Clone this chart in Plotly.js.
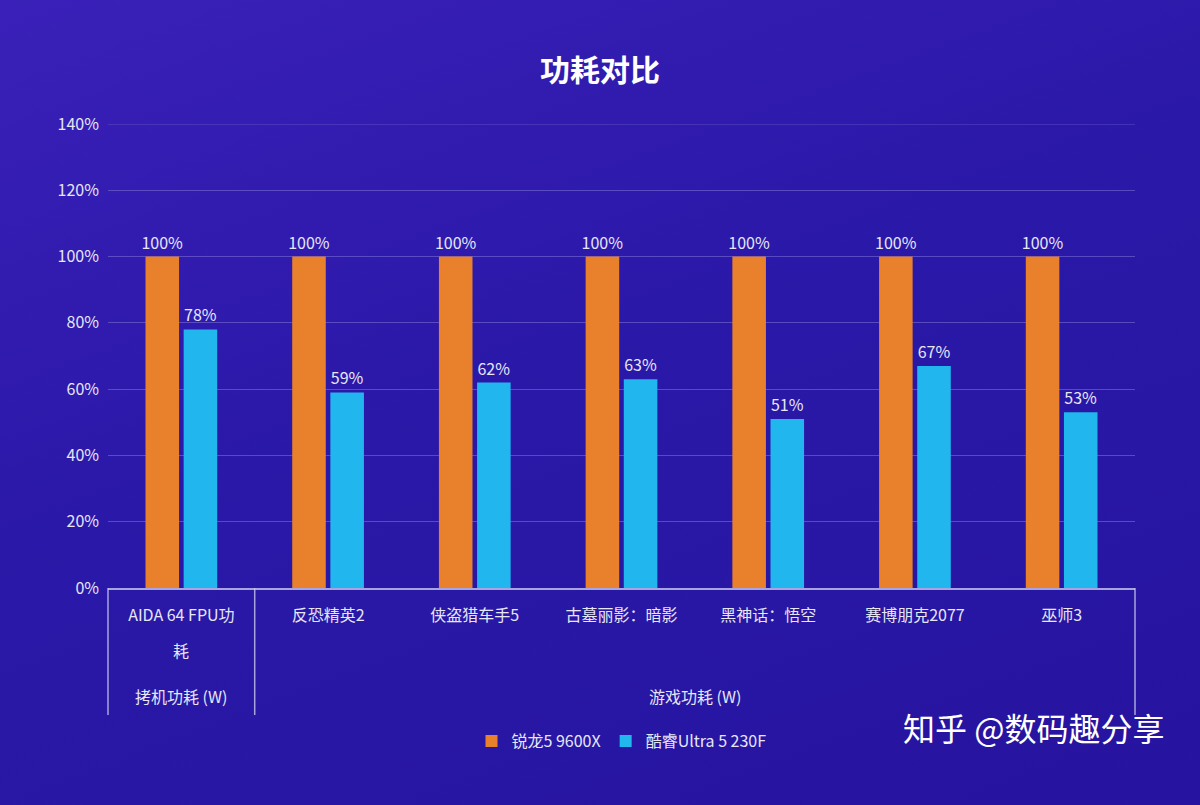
<!DOCTYPE html>
<html><head><meta charset="utf-8">
<script src="https://cdn.plot.ly/plotly-3.0.1.min.js"></script>
<style>html,body{margin:0;padding:0;}body{width:1200px;height:805px;background:linear-gradient(160deg,#3a20b8 0%,#2a18a8 45%,#2614a0 100%);}</style>
</head><body><div id="c" style="width:1200px;height:805px"></div>
<script>
const categories = ["AIDA 64 FPU功耗","反恐精英2","侠盗猎车手5","古墓丽影：暗影","黑神话：悟空","赛博朋克2077","巫师3"];
const tickLabels = ["AIDA 64 FPU功","反恐精英2","侠盗猎车手5","古墓丽影：暗影","黑神话：悟空","赛博朋克2077","巫师3"];
const ryzen = [100,100,100,100,100,100,100];
const intel = [78,59,62,63,51,67,53];
const seriesNames = ["锐龙5 9600X","酷睿Ultra 5 230F"];
const groupLabels = ["拷机功耗 (W)","游戏功耗 (W)"];
const F = '"Noto Sans CJK SC","Noto Sans",sans-serif';
const TC = '#e6e6f5';
const lab = {color:TC,size:16,family:F};
const mk = (y,name,color)=>({type:'bar',x:categories,y:y,name:name,marker:{color:color},
  text:y.map(v=>v+'%'),textposition:'outside',constraintext:'none',textfont:lab,cliponaxis:false,hoverinfo:'skip'});
const w=1/7;
const lc='rgba(200,200,235,0.8)';
const vline=x=>({type:'line',xref:'paper',yref:'paper',x0:x,x1:x,y0:0,y1:-127/464,line:{color:lc,width:1.5}});
Plotly.newPlot('c',[mk(ryzen,seriesNames[0],'#e8802c'),mk(intel,seriesNames[1],'#22b6ef')],{
  width:1200,height:805,paper_bgcolor:'rgba(0,0,0,0)',plot_bgcolor:'rgba(0,0,0,0)',
  margin:{l:108,r:65,t:124,b:217},
  title:{text:'<b>功耗对比</b>',x:0.5,xanchor:'center',y:0.913,yanchor:'middle',font:{family:F,size:30,color:'#ffffff'}},
  barmode:'group',bargap:0.48,bargroupgap:0.12,
  font:{family:F,color:TC},
  xaxis:{tickvals:categories,ticktext:tickLabels,tickfont:{family:F,size:16,color:TC},showline:true,linecolor:lc,linewidth:1.5,ticks:'',ticklabelstandoff:12,fixedrange:true},
  yaxis:{range:[0,140],dtick:20,ticksuffix:'%',gridcolor:'rgba(120,110,210,0.6)',zeroline:false,tickfont:{family:F,size:16,color:TC},ticklabelstandoff:8},
  showlegend:true,
  legend:{orientation:'h',x:0.5,xanchor:'center',y:-0.33,yanchor:'middle',font:{family:F,size:16,color:TC}},
  shapes:[vline(0),vline(w),vline(1),
    {type:'line',xref:'paper',yref:'y',x0:0,x1:1,y0:140,y1:140,line:{color:'rgba(120,110,210,0.6)',width:1}}],
  annotations:[
    {text:categories[0].slice(-1),xref:'paper',yref:'paper',x:w/2,xanchor:'center',y:-76/464,showarrow:false,font:{family:F,size:16,color:TC}},
    {text:groupLabels[0],xref:'paper',yref:'paper',x:w/2,xanchor:'center',y:-122/464,showarrow:false,font:{family:F,size:16,color:TC}},
    {text:groupLabels[1],xref:'paper',yref:'paper',x:w+(1-w)/2,xanchor:'center',y:-122/464,showarrow:false,font:{family:F,size:16,color:TC}},
    {text:'知乎 @数码趣分享',xref:'paper',yref:'paper',x:1.03,xanchor:'right',y:-164/464,showarrow:false,font:{family:F,size:32,color:'#ffffff'}}
  ]
},{staticPlot:true});
</script></body></html>
